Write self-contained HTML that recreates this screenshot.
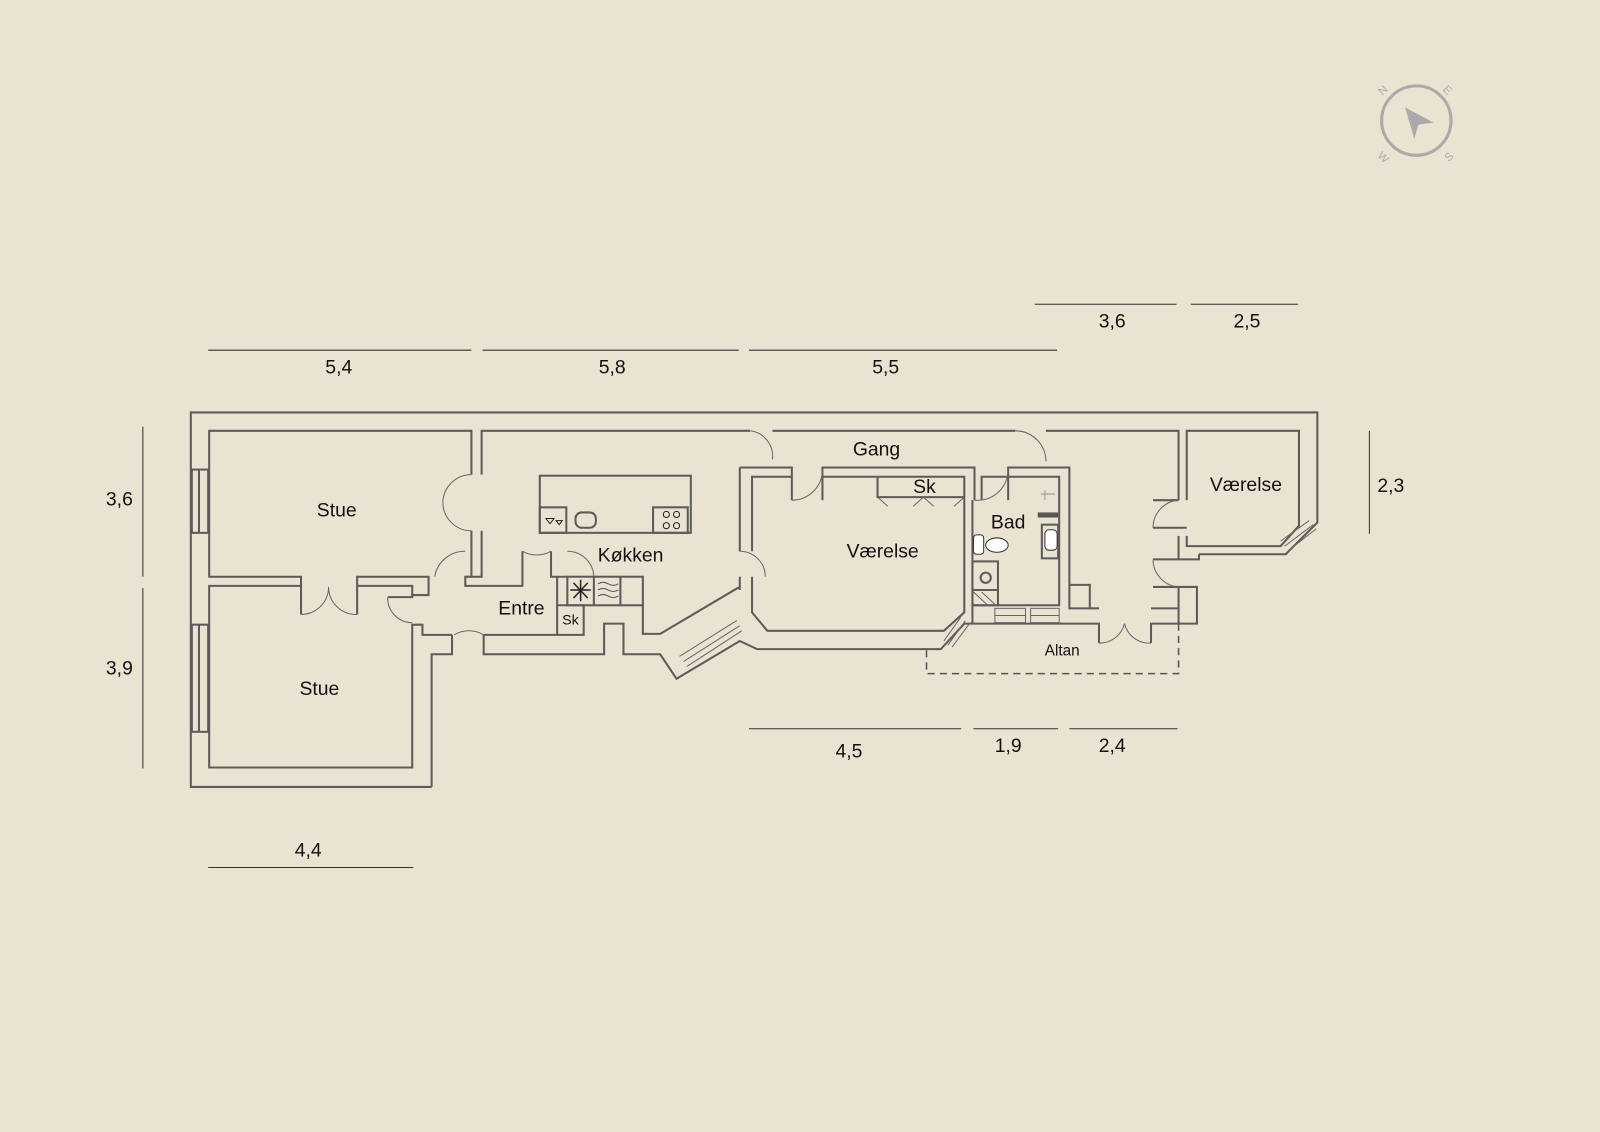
<!DOCTYPE html>
<html><head><meta charset="utf-8"><style>
html,body{margin:0;padding:0;background:#ebe3d2;}
svg{display:block}
text{font-family:"Liberation Sans",sans-serif;fill:#111;}
</style></head><body>
<svg width="1600" height="1132" viewBox="0 0 1568 1109" xmlns="http://www.w3.org/2000/svg">
<rect width="1568" height="1109" fill="#ebe3d2"/>
<g fill="none" stroke="#5b5b5b" stroke-width="2">
<!-- outer -->
<polyline points="423,771 187,771 187,404 1291,404 1291,512 1260,543 1175,543"/>
<polyline points="423,771 423,641 443,641 443,622"/>
<polyline points="474,622 474,641 592,641 592,611 611,611 611,641 647,641 663,665 725,628 742,636 922,636 945,611 1077,611 1077,630"/>
<polyline points="630,593 630,621 647,621 723,576 725,576"/>
<!-- Stue top -->
<polyline points="462,465 462,422 205,422 205,565 295,565 295,602"/>
<polyline points="350,602 350,565 420,565 420,583 404,583 404,585"/>
<polyline points="462,520 462,565 456,565"/>
<!-- Stue bottom -->
<polyline points="295,574 205,574 205,752 404,752 404,612 414,612 414,622 443,622"/>
<polyline points="350,574 404,574 404,585 380,585"/>
<!-- windows -->
<rect x="188" y="460" width="16" height="62"/>
<line x1="195" y1="460" x2="195" y2="522"/>
<rect x="188" y="612" width="16" height="105"/>
<line x1="195" y1="612" x2="195" y2="717"/>
<!-- kitchen -->
<polyline points="472,465 472,422 735,422"/>
<polyline points="472,520 472,565 456,565 456,574 512,574 512,540"/>
<polyline points="540,540 540,565 556,565"/>
<rect x="529" y="466" width="148" height="56"/>
<rect x="529" y="497" width="26" height="25"/>
<rect x="640" y="497" width="34" height="25"/>
<rect x="564" y="502" width="20" height="15" rx="6"/>
<rect x="556" y="565" width="74" height="28"/>
<line x1="582" y1="565" x2="582" y2="593"/><line x1="608" y1="565" x2="608" y2="593"/>
<polyline points="546,593 546,622 474,622"/>
<polyline points="546,565 546,593 572,593 572,622 546,622"/>
<!-- gang / værelse mid -->
<polyline points="757,422 995,422"/>
<polyline points="1025,422 1155,422 1155,490"/>
<polyline points="725,458 776,458 776,490"/>
<polyline points="806,490 806,458 955,458 955,490"/>
<polyline points="988,490 988,458 1048,458 1048,596 1068,596 1068,573 1048,573"/>
<polyline points="725,458 725,540"/>
<polyline points="725,565 725,578"/>
<polyline points="737,540 737,467 776,467"/>
<polyline points="806,467 945,467 945,600 925,618 752,618 737,600 737,565"/>
<polyline points="860,467 860,487 945,487"/>
<!-- Bad -->
<polyline points="962,490 962,467 1038,467 1038,593 953,593 953,490"/>
<rect x="953" y="550" width="25" height="43"/>
<line x1="953" y1="578" x2="978" y2="578"/>
<circle cx="966" cy="566" r="5"/>
<rect x="1021" y="514" width="16" height="33"/>
<line x1="953" y1="593" x2="953" y2="611"/>
<line x1="1068" y1="596" x2="1077" y2="596"/>
<!-- right værelse -->
<polyline points="1163,490 1163,422 1273,422 1273,515 1255,535 1163,535 1163,525"/>
<polyline points="1155,490 1130,490"/>
<polyline points="1130,517 1163,517"/>
<polyline points="1155,525 1155,548 1175,548 1175,543"/>
<polyline points="1130,548 1155,548"/>
<polyline points="1130,575 1173,575 1173,611 1128,611 1128,630"/>
<polyline points="1155,575 1155,611"/>
<polyline points="1128,596 1155,596"/>
</g>
<!-- door arcs -->
<g fill="none" stroke="#666" stroke-width="1">
<path d="M462,465 A28,28 0 0 0 434,492 A28,28 0 0 0 462,520"/>
<path d="M295,602 A27,27 0 0 0 322,575 A27,27 0 0 0 350,602"/>
<path d="M456,540 A30,30 0 0 0 426,565"/>
<path d="M540,540 A28,28 0 0 1 512,540"/>
<path d="M380,585 A24,24 0 0 0 404,610"/>
<path d="M445,622 A28,28 0 0 1 474,622"/>
<path d="M556,540 A26,26 0 0 1 582,565"/>
<path d="M735,422 A25,25 0 0 1 757,450"/>
<path d="M776,490 A30,30 0 0 0 806,460"/>
<path d="M955,490 A30,30 0 0 0 988,460"/>
<path d="M995,422 A30,30 0 0 1 1025,452"/>
<path d="M725,540 A25,25 0 0 1 750,565"/>
<path d="M1155,490 A27,27 0 0 0 1130,517"/>
<path d="M1130,548 A27,27 0 0 0 1155,575"/>
<path d="M1077,630 A25,25 0 0 0 1102,611 A25,25 0 0 0 1128,630"/>
<line x1="860" y1="487" x2="870" y2="496"/><line x1="895" y1="496" x2="905" y2="487"/><line x1="905" y1="487" x2="915" y2="496"/><line x1="945" y1="487" x2="935" y2="496"/>
<!-- window hatching -->
<line x1="670" y1="648" x2="725" y2="613"/><line x1="666" y1="643" x2="722" y2="608"/><line x1="673" y1="653" x2="727" y2="618"/>
<line x1="925" y1="628" x2="942" y2="604"/><line x1="929" y1="632" x2="946" y2="608"/><line x1="933" y1="634" x2="950" y2="611"/>
<line x1="1255" y1="530" x2="1283" y2="510"/><line x1="1259" y1="535" x2="1287" y2="514"/><line x1="1263" y1="539" x2="1290" y2="518"/>
<rect x="975" y="596" width="30" height="14"/><rect x="1010" y="596" width="28" height="14"/>
<line x1="975" y1="603" x2="1005" y2="603"/><line x1="1010" y1="603" x2="1038" y2="603"/>
<line x1="954" y1="580" x2="968" y2="593"/><line x1="962" y1="580" x2="976" y2="593"/>
</g>
<!-- fixtures -->
<g stroke="#222" stroke-width="1.5" fill="none">
<line x1="559" y1="578" x2="579" y2="578"/><line x1="569" y1="568" x2="569" y2="589"/><line x1="562" y1="571" x2="576" y2="586"/><line x1="576" y1="571" x2="562" y2="586"/>
<path d="M586,572 q5,-3 10,0 t10,0 M586,578 q5,-3 10,0 t10,0 M586,584 q5,-3 10,0 t10,0" stroke="#555" stroke-width="1"/>
<circle cx="653" cy="504" r="3" stroke-width="1"/><circle cx="663" cy="504" r="3" stroke-width="1"/><circle cx="653" cy="515" r="3" stroke-width="1"/><circle cx="663" cy="515" r="3" stroke-width="1"/>
<path d="M535,508 h8 l-4,5 z M545,510 h6 l-3,4 z" stroke-width="1"/>
</g>
<ellipse cx="977" cy="534" rx="11" ry="7" fill="#fff" stroke="#333"/>
<rect x="954" y="524" width="10" height="19" rx="3" fill="#fff" stroke="#333"/>
<rect x="1017" y="502" width="20" height="5" fill="#555"/>
<rect x="1024" y="519" width="12" height="20" rx="4" fill="#fff" stroke="#333"/>
<path d="M1020,484 h14 M1024,480 v10" stroke="#999" fill="none"/>
<!-- altan dashed -->
<polyline points="908,637 908,660 1155,660 1155,611" fill="none" stroke="#555" stroke-width="1.5" stroke-dasharray="7,5"/>
<!-- dimension lines -->
<g stroke="#333" stroke-width="1">
<line x1="204" y1="343" x2="462" y2="343"/><line x1="473" y1="343" x2="724" y2="343"/><line x1="734" y1="343" x2="1036" y2="343"/>
<line x1="1014" y1="298" x2="1153" y2="298"/><line x1="1167" y1="298" x2="1272" y2="298"/>
<line x1="140" y1="418" x2="140" y2="565"/><line x1="140" y1="576" x2="140" y2="753"/>
<line x1="1342" y1="422" x2="1342" y2="523"/>
<line x1="734" y1="714" x2="942" y2="714"/><line x1="954" y1="714" x2="1037" y2="714"/><line x1="1048" y1="714" x2="1154" y2="714"/>
<line x1="204" y1="850" x2="405" y2="850"/>
</g>
<g font-size="19">
<text x="332" y="366" text-anchor="middle">5,4</text>
<text x="600" y="366" text-anchor="middle">5,8</text>
<text x="868" y="366" text-anchor="middle">5,5</text>
<text x="1090" y="321" text-anchor="middle">3,6</text>
<text x="1222" y="321" text-anchor="middle">2,5</text>
<text x="117" y="495" text-anchor="middle">3,6</text>
<text x="117" y="661" text-anchor="middle">3,9</text>
<text x="1363" y="482" text-anchor="middle">2,3</text>
<text x="832" y="742" text-anchor="middle">4,5</text>
<text x="988" y="737" text-anchor="middle">1,9</text>
<text x="1090" y="737" text-anchor="middle">2,4</text>
<text x="302" y="839" text-anchor="middle">4,4</text>
<text x="330" y="506" text-anchor="middle">Stue</text>
<text x="313" y="681" text-anchor="middle">Stue</text>
<text x="618" y="550" text-anchor="middle">Køkken</text>
<text x="511" y="602" text-anchor="middle">Entre</text>
<text x="859" y="446" text-anchor="middle">Gang</text>
<text x="906" y="483" text-anchor="middle">Sk</text>
<text x="865" y="546" text-anchor="middle">Værelse</text>
<text x="988" y="518" text-anchor="middle">Bad</text>
<text x="1221" y="481" text-anchor="middle">Værelse</text>
</g>
<text x="559" y="612" font-size="14" text-anchor="middle">Sk</text>
<text x="1041" y="642" font-size="15" text-anchor="middle">Altan</text>
<!-- compass -->
<g stroke="#aaa" fill="none" stroke-width="3">
<circle cx="1388" cy="118" r="34"/>
</g>
<path d="M1377,105 L1405,120 L1390,122 L1386,136 Z" fill="#aaa"/>
<g font-size="11" fill="#aaa">
<text x="1351" y="92" transform="rotate(-45 1355 88)" style="fill:#aaa">N</text>
<text x="1415" y="92" transform="rotate(45 1419 88)" style="fill:#aaa">E</text>
<text x="1351" y="157" transform="rotate(45 1355 153)" style="fill:#aaa">W</text>
<text x="1416" y="157" transform="rotate(-45 1420 153)" style="fill:#aaa">S</text>
</g>
</svg>
</body></html>
